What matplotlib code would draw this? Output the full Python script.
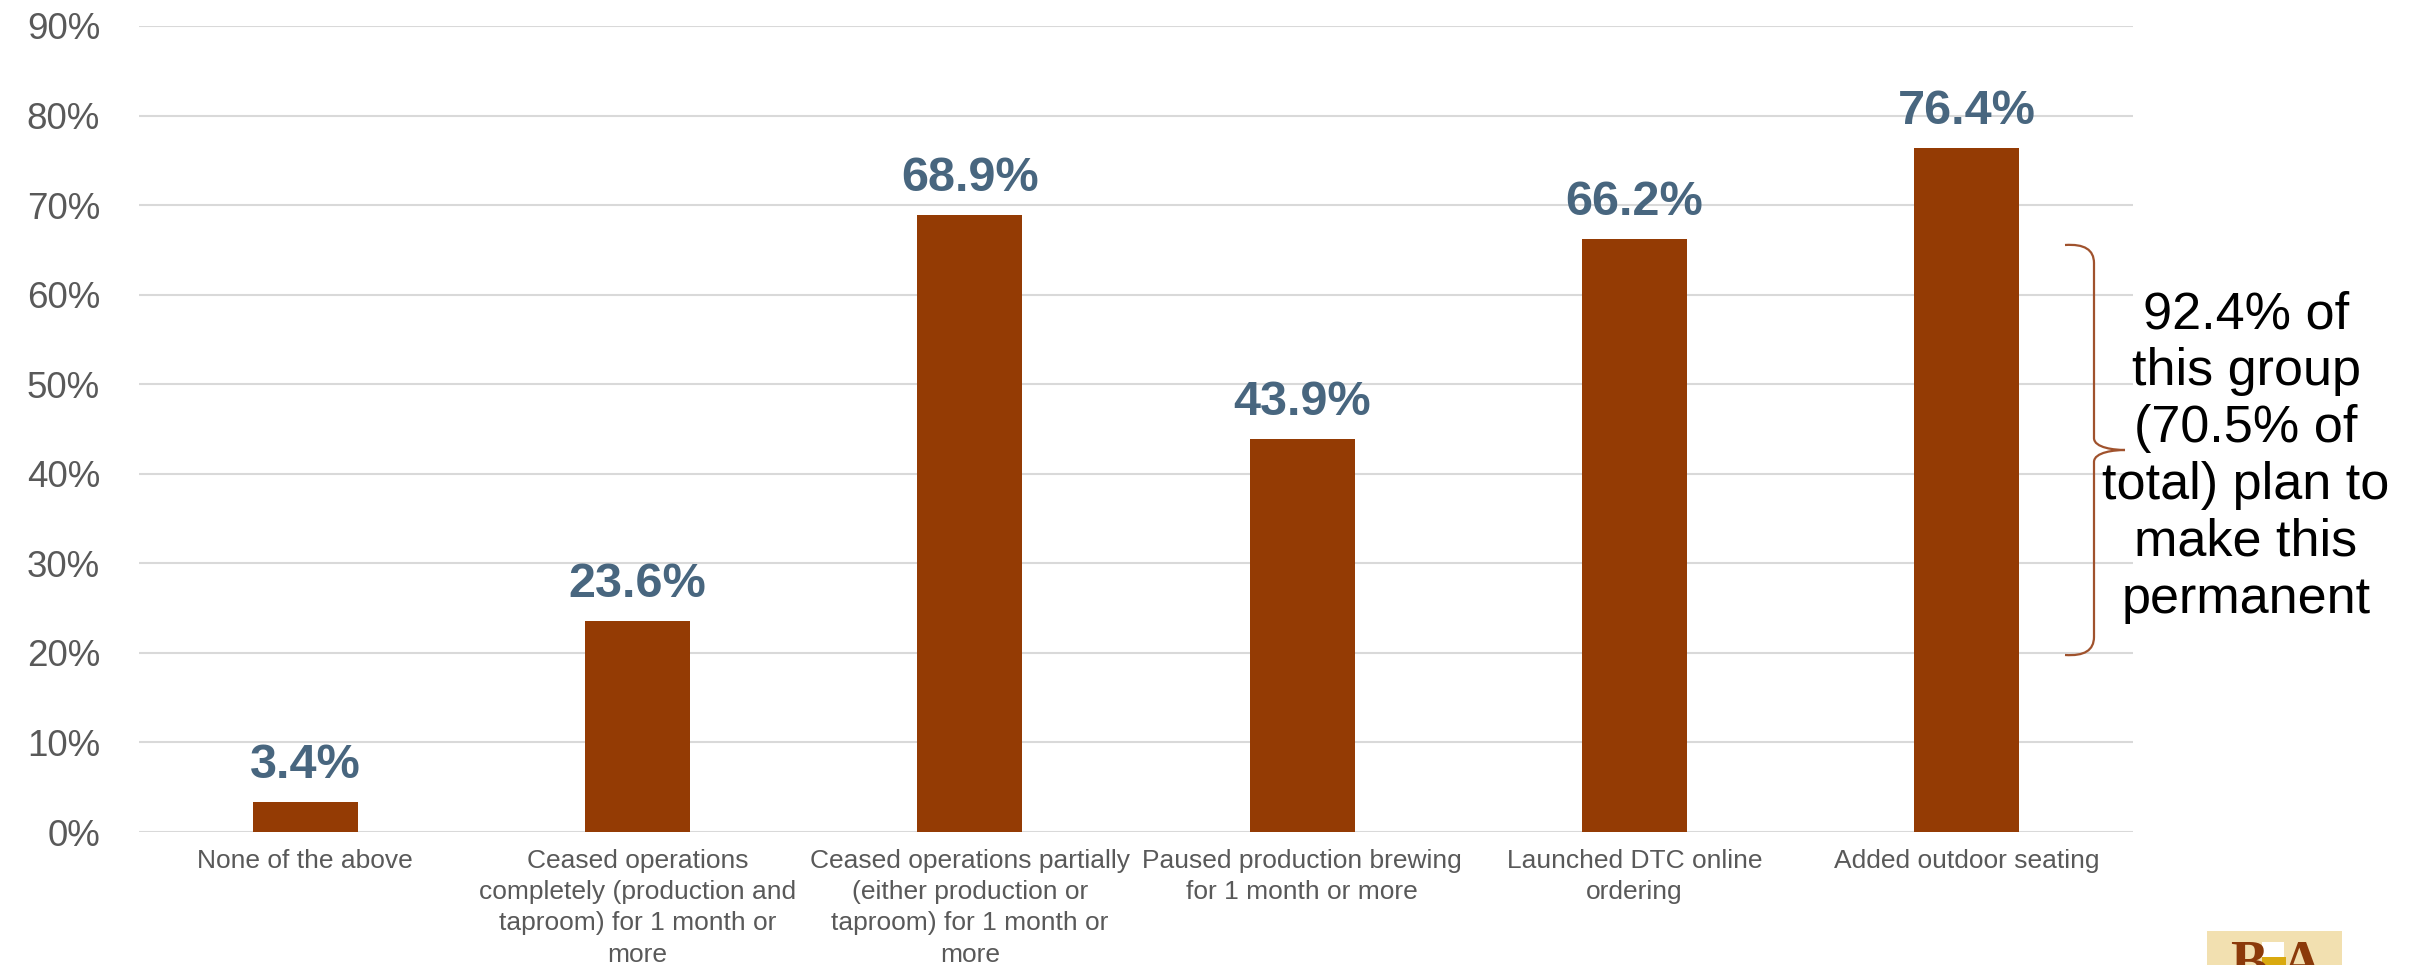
import matplotlib
matplotlib.use("Agg")
import matplotlib.pyplot as plt
from matplotlib.path import Path
from matplotlib.patches import PathPatch, Rectangle

plt.rcParams['font.family'] = ['Liberation Sans', 'DejaVu Sans']

categories = [
    "None of the above",
    "Ceased operations\ncompletely (production and\ntaproom) for 1 month or\nmore",
    "Ceased operations partially\n(either production or\ntaproom) for 1 month or\nmore",
    "Paused production brewing\nfor 1 month or more",
    "Launched DTC online\nordering",
    "Added outdoor seating",
]
values = [3.4, 23.6, 68.9, 43.9, 66.2, 76.4]
y_ticks = [0, 10, 20, 30, 40, 50, 60, 70, 80, 90]
note = "92.4% of\nthis group\n(70.5% of\ntotal) plan to\nmake this\npermanent"

BAR = '#943B04'
LABEL = '#48667F'
GREY = '#595959'
GRID = '#D9D9D9'

fig = plt.figure(figsize=(24.2, 9.65), dpi=100)
ax = fig.add_axes([139 / 2420, 133 / 965, (2133 - 139) / 2420, (832 - 26) / 965])

x = list(range(len(categories)))
bars = ax.bar(x, values, width=0.315, color=BAR, zorder=3)

ax.set_xlim(-0.5, len(categories) - 0.5)
ax.set_ylim(0, 90)
ax.set_yticks(y_ticks)
ax.set_yticklabels([f"{t}%" for t in y_ticks])
ax.set_xticks(x)
ax.set_xticklabels(categories, fontsize=19, color=GREY, linespacing=1.39)
ax.tick_params(axis='y', labelsize=26.5, labelcolor=GREY, length=0, pad=28)
ax.tick_params(axis='x', length=0, pad=12)

ax.yaxis.grid(True, color=GRID, linewidth=1.5, zorder=0)
ax.set_axisbelow(True)
for s in ax.spines.values():
    s.set_visible(False)

for xi, v in zip(x, values):
    ax.annotate(f"{v:.1f}%", (xi, v), xytext=(0, 10), textcoords='offset points',
                ha='center', va='bottom', fontsize=35, fontweight='bold', color=LABEL)

# curly brace beside the last bar
def px(xp, yp):
    return (xp / 2420, 1 - yp / 965)

top, bot, mid = 245, 655, 450
xl, xs, xt = 2065, 2094, 2125
verts = [
    px(xl, top), px(xs, top - 2), px(xs, top + 18),
    px(xs, mid - 12),
    px(xs, mid - 2), px(xt - 10, mid), px(xt, mid),
    px(xt - 10, mid), px(xs, mid + 2), px(xs, mid + 12),
    px(xs, bot - 18),
    px(xs, bot + 2), px(xl, bot),
]
codes = [Path.MOVETO, Path.CURVE3, Path.CURVE3,
         Path.LINETO,
         Path.CURVE4, Path.CURVE4, Path.CURVE4,
         Path.CURVE4, Path.CURVE4, Path.CURVE4,
         Path.LINETO,
         Path.CURVE3, Path.CURVE3]
fig.patches.append(PathPatch(Path(verts, codes), transform=fig.transFigure,
                             fill=False, edgecolor='#A0522D', linewidth=1.6))

fig.text(2246 / 2420, 1 - 457 / 965, note, ha='center', va='center',
         fontsize=37.5, color='black', linespacing=1.21)

# small logo in the lower right corner
fig.patches.append(Rectangle((2207 / 2420, 0), (2342 - 2207) / 2420, (965 - 931) / 965,
                             transform=fig.transFigure, facecolor='#F2E0B0', edgecolor='none'))
fig.patches.append(Rectangle((2262 / 2420, 8 / 965), 22 / 2420, 15 / 965,
                             transform=fig.transFigure, facecolor='white', edgecolor='none'))
fig.patches.append(Rectangle((2262 / 2420, 0), 24 / 2420, 8 / 965,
                             transform=fig.transFigure, facecolor='#D9A90F', edgecolor='none'))
fig.text(2230 / 2420, 1 - 940 / 965, "B", ha='left', va='top', fontsize=40,
         fontweight='bold', family='Liberation Serif', color='#8B3A0A')
fig.text(2282 / 2420, 1 - 940 / 965, "A", ha='left', va='top', fontsize=40,
         fontweight='bold', family='Liberation Serif', color='#8B3A0A')

fig.savefig("out.png", dpi=100)
